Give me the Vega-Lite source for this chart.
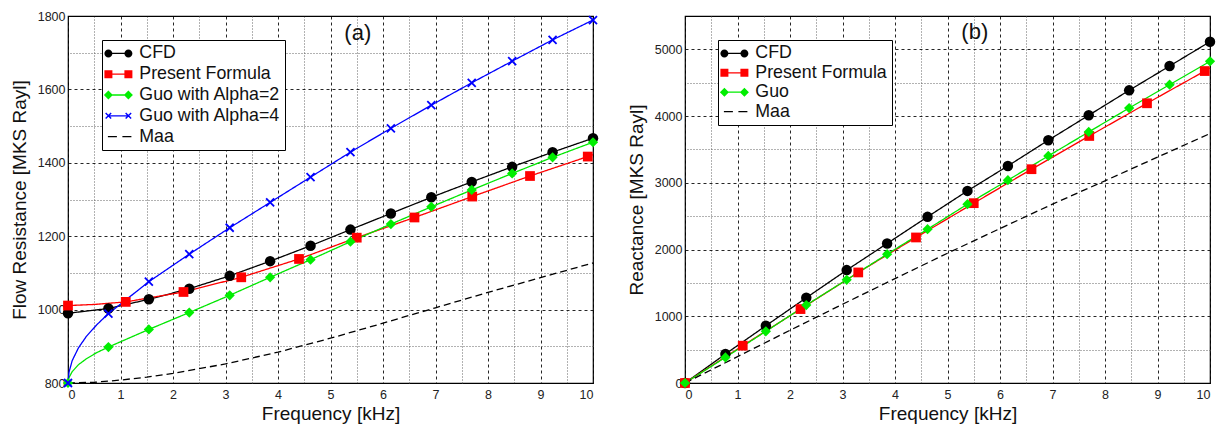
{
  "$schema": "https://vega.github.io/schema/vega-lite/v6.json",
  "autosize": {"type": "pad"},
  "padding": {"left": 9, "top": 9, "right": 5, "bottom": 5},
  "background": "white",
  "config": {
    "font": "Liberation Sans",
    "view": {"stroke": "#000", "strokeWidth": 1.2},
    "axis": {
      "labelFont": "Liberation Sans",
      "labelFontSize": 12.5,
      "labelColor": "#222",
      "titleFont": "Liberation Sans",
      "titleFontSize": 19,
      "titleFontWeight": "normal",
      "titleColor": "#111",
      "domain": false,
      "ticks": false,
      "gridColor": "#000",
      "gridDash": [3, 3],
      "gridWidth": 1,
      "gridOpacity": 0.85
    },
    "legend": {
      "strokeColor": "#000",
      "fillColor": "#fff",
      "padding": 4.5,
      "labelFont": "Liberation Sans",
      "labelFontSize": 17.8,
      "labelColor": "#111",
      "labelLimit": 300,
      "symbolSize": 100,
      "symbolOpacity": 1,
      "symbolStrokeWidth": 0,
      "symbolOffset": 3,
      "labelOffset": 12,
      "rowPadding": 1.8
    }
  },
  "datasets": {
    "resistanceCurves": [
      {"series": "CFD", "f": 0, "v": 990}, {"series": "CFD", "f": 0.77, "v": 1003}, {"series": "CFD", "f": 1.54, "v": 1028},
      {"series": "CFD", "f": 2.31, "v": 1057}, {"series": "CFD", "f": 3.08, "v": 1092}, {"series": "CFD", "f": 3.85, "v": 1132},
      {"series": "CFD", "f": 4.62, "v": 1174}, {"series": "CFD", "f": 5.38, "v": 1218}, {"series": "CFD", "f": 6.15, "v": 1262},
      {"series": "CFD", "f": 6.92, "v": 1306}, {"series": "CFD", "f": 7.69, "v": 1348}, {"series": "CFD", "f": 8.46, "v": 1389},
      {"series": "CFD", "f": 9.23, "v": 1429}, {"series": "CFD", "f": 10, "v": 1467},
      {"series": "Present Formula", "f": 0, "v": 1011}, {"series": "Present Formula", "f": 0.5, "v": 1014},
      {"series": "Present Formula", "f": 1.1, "v": 1021}, {"series": "Present Formula", "f": 2.2, "v": 1048},
      {"series": "Present Formula", "f": 3.3, "v": 1088}, {"series": "Present Formula", "f": 4.4, "v": 1138},
      {"series": "Present Formula", "f": 5.5, "v": 1196}, {"series": "Present Formula", "f": 6.6, "v": 1251},
      {"series": "Present Formula", "f": 7.7, "v": 1308}, {"series": "Present Formula", "f": 8.8, "v": 1364},
      {"series": "Present Formula", "f": 9.9, "v": 1417}, {"series": "Present Formula", "f": 10, "v": 1422},
      {"series": "Guo with Alpha=2", "f": 0, "v": 800}, {"series": "Guo with Alpha=2", "f": 0.02, "v": 815},
      {"series": "Guo with Alpha=2", "f": 0.08, "v": 831}, {"series": "Guo with Alpha=2", "f": 0.2, "v": 850},
      {"series": "Guo with Alpha=2", "f": 0.35, "v": 866}, {"series": "Guo with Alpha=2", "f": 0.55, "v": 883},
      {"series": "Guo with Alpha=2", "f": 0.77, "v": 898}, {"series": "Guo with Alpha=2", "f": 1.54, "v": 946},
      {"series": "Guo with Alpha=2", "f": 2.31, "v": 992}, {"series": "Guo with Alpha=2", "f": 3.08, "v": 1039},
      {"series": "Guo with Alpha=2", "f": 3.85, "v": 1088}, {"series": "Guo with Alpha=2", "f": 4.62, "v": 1136},
      {"series": "Guo with Alpha=2", "f": 5.38, "v": 1185}, {"series": "Guo with Alpha=2", "f": 6.15, "v": 1233},
      {"series": "Guo with Alpha=2", "f": 6.92, "v": 1280}, {"series": "Guo with Alpha=2", "f": 7.69, "v": 1326},
      {"series": "Guo with Alpha=2", "f": 8.46, "v": 1371}, {"series": "Guo with Alpha=2", "f": 9.23, "v": 1415},
      {"series": "Guo with Alpha=2", "f": 10, "v": 1456},
      {"series": "Guo with Alpha=4", "f": 0, "v": 800}, {"series": "Guo with Alpha=4", "f": 0.02, "v": 830},
      {"series": "Guo with Alpha=4", "f": 0.08, "v": 861}, {"series": "Guo with Alpha=4", "f": 0.2, "v": 896},
      {"series": "Guo with Alpha=4", "f": 0.35, "v": 927}, {"series": "Guo with Alpha=4", "f": 0.55, "v": 959},
      {"series": "Guo with Alpha=4", "f": 0.77, "v": 989}, {"series": "Guo with Alpha=4", "f": 1.54, "v": 1076},
      {"series": "Guo with Alpha=4", "f": 2.31, "v": 1151}, {"series": "Guo with Alpha=4", "f": 3.08, "v": 1223},
      {"series": "Guo with Alpha=4", "f": 3.85, "v": 1292}, {"series": "Guo with Alpha=4", "f": 4.62, "v": 1361},
      {"series": "Guo with Alpha=4", "f": 5.38, "v": 1429}, {"series": "Guo with Alpha=4", "f": 6.15, "v": 1494},
      {"series": "Guo with Alpha=4", "f": 6.92, "v": 1557}, {"series": "Guo with Alpha=4", "f": 7.69, "v": 1618},
      {"series": "Guo with Alpha=4", "f": 8.46, "v": 1677}, {"series": "Guo with Alpha=4", "f": 9.23, "v": 1735},
      {"series": "Guo with Alpha=4", "f": 10, "v": 1789},
      {"series": "Maa", "f": 0, "v": 800}, {"series": "Maa", "f": 0.5, "v": 802}, {"series": "Maa", "f": 1, "v": 808},
      {"series": "Maa", "f": 1.5, "v": 816}, {"series": "Maa", "f": 2, "v": 826}, {"series": "Maa", "f": 3, "v": 852},
      {"series": "Maa", "f": 4, "v": 884}, {"series": "Maa", "f": 5, "v": 922}, {"series": "Maa", "f": 6, "v": 963},
      {"series": "Maa", "f": 7, "v": 1005}, {"series": "Maa", "f": 8, "v": 1047}, {"series": "Maa", "f": 9, "v": 1087},
      {"series": "Maa", "f": 10, "v": 1127}
    ],
    "resistanceMarks": [
      {"series": "CFD", "f": 0, "v": 990}, {"series": "CFD", "f": 0.77, "v": 1003}, {"series": "CFD", "f": 1.54, "v": 1028},
      {"series": "CFD", "f": 2.31, "v": 1057}, {"series": "CFD", "f": 3.08, "v": 1092}, {"series": "CFD", "f": 3.85, "v": 1132},
      {"series": "CFD", "f": 4.62, "v": 1174}, {"series": "CFD", "f": 5.38, "v": 1218}, {"series": "CFD", "f": 6.15, "v": 1262},
      {"series": "CFD", "f": 6.92, "v": 1306}, {"series": "CFD", "f": 7.69, "v": 1348}, {"series": "CFD", "f": 8.46, "v": 1389},
      {"series": "CFD", "f": 9.23, "v": 1429}, {"series": "CFD", "f": 10, "v": 1467},
      {"series": "Present Formula", "f": 0, "v": 1011}, {"series": "Present Formula", "f": 1.1, "v": 1021},
      {"series": "Present Formula", "f": 2.2, "v": 1048}, {"series": "Present Formula", "f": 3.3, "v": 1088},
      {"series": "Present Formula", "f": 4.4, "v": 1138}, {"series": "Present Formula", "f": 5.5, "v": 1196},
      {"series": "Present Formula", "f": 6.6, "v": 1251}, {"series": "Present Formula", "f": 7.7, "v": 1308},
      {"series": "Present Formula", "f": 8.8, "v": 1364}, {"series": "Present Formula", "f": 9.9, "v": 1417},
      {"series": "Guo with Alpha=2", "f": 0, "v": 800}, {"series": "Guo with Alpha=2", "f": 0.77, "v": 898},
      {"series": "Guo with Alpha=2", "f": 1.54, "v": 946}, {"series": "Guo with Alpha=2", "f": 2.31, "v": 992},
      {"series": "Guo with Alpha=2", "f": 3.08, "v": 1039}, {"series": "Guo with Alpha=2", "f": 3.85, "v": 1088},
      {"series": "Guo with Alpha=2", "f": 4.62, "v": 1136}, {"series": "Guo with Alpha=2", "f": 5.38, "v": 1185},
      {"series": "Guo with Alpha=2", "f": 6.15, "v": 1233}, {"series": "Guo with Alpha=2", "f": 6.92, "v": 1280},
      {"series": "Guo with Alpha=2", "f": 7.69, "v": 1326}, {"series": "Guo with Alpha=2", "f": 8.46, "v": 1371},
      {"series": "Guo with Alpha=2", "f": 9.23, "v": 1415}, {"series": "Guo with Alpha=2", "f": 10, "v": 1456},
      {"series": "Guo with Alpha=4", "f": 0, "v": 800}, {"series": "Guo with Alpha=4", "f": 0.77, "v": 989},
      {"series": "Guo with Alpha=4", "f": 1.54, "v": 1076}, {"series": "Guo with Alpha=4", "f": 2.31, "v": 1151},
      {"series": "Guo with Alpha=4", "f": 3.08, "v": 1223}, {"series": "Guo with Alpha=4", "f": 3.85, "v": 1292},
      {"series": "Guo with Alpha=4", "f": 4.62, "v": 1361}, {"series": "Guo with Alpha=4", "f": 5.38, "v": 1429},
      {"series": "Guo with Alpha=4", "f": 6.15, "v": 1494}, {"series": "Guo with Alpha=4", "f": 6.92, "v": 1557},
      {"series": "Guo with Alpha=4", "f": 7.69, "v": 1618}, {"series": "Guo with Alpha=4", "f": 8.46, "v": 1677},
      {"series": "Guo with Alpha=4", "f": 9.23, "v": 1735}, {"series": "Guo with Alpha=4", "f": 10, "v": 1789}
    ],
    "reactanceCurves": [
      {"series": "CFD", "f": 0, "v": 0}, {"series": "CFD", "f": 0.77, "v": 434}, {"series": "CFD", "f": 1.54, "v": 858},
      {"series": "CFD", "f": 2.31, "v": 1277}, {"series": "CFD", "f": 3.08, "v": 1692}, {"series": "CFD", "f": 3.85, "v": 2091},
      {"series": "CFD", "f": 4.62, "v": 2490}, {"series": "CFD", "f": 5.38, "v": 2879}, {"series": "CFD", "f": 6.15, "v": 3253},
      {"series": "CFD", "f": 6.92, "v": 3638}, {"series": "CFD", "f": 7.69, "v": 4012}, {"series": "CFD", "f": 8.46, "v": 4386},
      {"series": "CFD", "f": 9.23, "v": 4750}, {"series": "CFD", "f": 10, "v": 5115},
      {"series": "Present Formula", "f": 0, "v": 0}, {"series": "Present Formula", "f": 1.1, "v": 559},
      {"series": "Present Formula", "f": 2.2, "v": 1108}, {"series": "Present Formula", "f": 3.3, "v": 1657},
      {"series": "Present Formula", "f": 4.4, "v": 2181}, {"series": "Present Formula", "f": 5.5, "v": 2695},
      {"series": "Present Formula", "f": 6.6, "v": 3204}, {"series": "Present Formula", "f": 7.7, "v": 3702},
      {"series": "Present Formula", "f": 8.8, "v": 4192}, {"series": "Present Formula", "f": 9.9, "v": 4675},
      {"series": "Present Formula", "f": 10, "v": 4720},
      {"series": "Guo", "f": 0, "v": 0}, {"series": "Guo", "f": 0.77, "v": 384}, {"series": "Guo", "f": 1.54, "v": 774},
      {"series": "Guo", "f": 2.31, "v": 1168}, {"series": "Guo", "f": 3.08, "v": 1547}, {"series": "Guo", "f": 3.85, "v": 1931},
      {"series": "Guo", "f": 4.62, "v": 2305}, {"series": "Guo", "f": 5.38, "v": 2680}, {"series": "Guo", "f": 6.15, "v": 3039},
      {"series": "Guo", "f": 6.92, "v": 3403}, {"series": "Guo", "f": 7.69, "v": 3762}, {"series": "Guo", "f": 8.46, "v": 4121},
      {"series": "Guo", "f": 9.23, "v": 4471}, {"series": "Guo", "f": 10, "v": 4820},
      {"series": "Maa", "f": 0, "v": 0}, {"series": "Maa", "f": 1, "v": 395}, {"series": "Maa", "f": 2, "v": 790},
      {"series": "Maa", "f": 3, "v": 1180}, {"series": "Maa", "f": 4, "v": 1565}, {"series": "Maa", "f": 5, "v": 1945},
      {"series": "Maa", "f": 6, "v": 2315}, {"series": "Maa", "f": 7, "v": 2680}, {"series": "Maa", "f": 8, "v": 3030},
      {"series": "Maa", "f": 9, "v": 3385}, {"series": "Maa", "f": 10, "v": 3738}
    ],
    "reactanceMarks": [
      {"series": "CFD", "f": 0, "v": 0}, {"series": "CFD", "f": 0.77, "v": 434}, {"series": "CFD", "f": 1.54, "v": 858},
      {"series": "CFD", "f": 2.31, "v": 1277}, {"series": "CFD", "f": 3.08, "v": 1692}, {"series": "CFD", "f": 3.85, "v": 2091},
      {"series": "CFD", "f": 4.62, "v": 2490}, {"series": "CFD", "f": 5.38, "v": 2879}, {"series": "CFD", "f": 6.15, "v": 3253},
      {"series": "CFD", "f": 6.92, "v": 3638}, {"series": "CFD", "f": 7.69, "v": 4012}, {"series": "CFD", "f": 8.46, "v": 4386},
      {"series": "CFD", "f": 9.23, "v": 4750}, {"series": "CFD", "f": 10, "v": 5115},
      {"series": "Present Formula", "f": 0, "v": 0}, {"series": "Present Formula", "f": 1.1, "v": 559},
      {"series": "Present Formula", "f": 2.2, "v": 1108}, {"series": "Present Formula", "f": 3.3, "v": 1657},
      {"series": "Present Formula", "f": 4.4, "v": 2181}, {"series": "Present Formula", "f": 5.5, "v": 2695},
      {"series": "Present Formula", "f": 6.6, "v": 3204}, {"series": "Present Formula", "f": 7.7, "v": 3702},
      {"series": "Present Formula", "f": 8.8, "v": 4192}, {"series": "Present Formula", "f": 9.9, "v": 4675},
      {"series": "Guo", "f": 0, "v": 0}, {"series": "Guo", "f": 0.77, "v": 384}, {"series": "Guo", "f": 1.54, "v": 774},
      {"series": "Guo", "f": 2.31, "v": 1168}, {"series": "Guo", "f": 3.08, "v": 1547}, {"series": "Guo", "f": 3.85, "v": 1931},
      {"series": "Guo", "f": 4.62, "v": 2305}, {"series": "Guo", "f": 5.38, "v": 2680}, {"series": "Guo", "f": 6.15, "v": 3039},
      {"series": "Guo", "f": 6.92, "v": 3403}, {"series": "Guo", "f": 7.69, "v": 3762}, {"series": "Guo", "f": 8.46, "v": 4121},
      {"series": "Guo", "f": 9.23, "v": 4471}, {"series": "Guo", "f": 10, "v": 4820}
    ]
  },
  "bounds": "flush",
  "spacing": 92,
  "hconcat": [
    {
      "width": 525,
      "height": 367,
      "layer": [
        {
          "data": {"name": "resistanceCurves"},
          "mark": {"type": "point", "opacity": 0},
          "encoding": {
            "x": {"field": "f", "type": "quantitative", "scale": {"domain": [0, 10], "nice": false},
              "axis": {"orient": "top", "values": [0.5, 1.5, 2.5, 3.5, 4.5, 5.5, 6.5, 7.5, 8.5, 9.5], "grid": true, "gridDash": [1, 2], "gridColor": "#555", "gridOpacity": 0.9, "labels": false, "title": null}},
            "y": {"field": "v", "type": "quantitative", "scale": {"domain": [800, 1800], "nice": false, "zero": false},
              "axis": {"orient": "right", "values": [900, 1100, 1300, 1500, 1700], "grid": true, "gridDash": [1, 2], "gridColor": "#555", "gridOpacity": 0.9, "labels": false, "title": null}}
          }
        },
        {
          "data": {"name": "resistanceCurves"},
          "mark": {"type": "line", "strokeWidth": 1.3},
          "encoding": {
            "x": {"field": "f", "type": "quantitative",
              "axis": {"orient": "bottom", "values": [0, 1, 2, 3, 4, 5, 6, 7, 8, 9, 10], "format": "d", "grid": true, "title": "Frequency [kHz]", "labelPadding": 5, "titlePadding": 4}},
            "y": {"field": "v", "type": "quantitative",
              "axis": {"orient": "left", "values": [800, 1000, 1200, 1400, 1600, 1800], "format": "d", "grid": true, "title": "Flow Resistance [MKS Rayl]", "labelPadding": 3, "titlePadding": 8}},
            "detail": {"field": "series"},
            "stroke": {
              "condition": [
                {"test": "datum.series === 'Present Formula'", "value": "#ff0000"},
                {"test": "datum.series === 'Guo with Alpha=2'", "value": "#00e600"},
                {"test": "datum.series === 'Guo with Alpha=4'", "value": "#0000ff"}
              ],
              "value": "#000000"},
            "strokeDash": {"condition": {"test": "datum.series === 'Maa'", "value": [7, 4]}, "value": [1, 0]}
          }
        },
        {
          "data": {"name": "resistanceMarks"},
          "transform": [{"filter": "datum.series === 'CFD'"}],
          "mark": {"type": "point", "shape": "circle", "filled": true, "color": "#000000", "size": 110, "opacity": 1},
          "encoding": {"x": {"field": "f", "type": "quantitative", "axis": null}, "y": {"field": "v", "type": "quantitative", "axis": null}}
        },
        {
          "data": {"name": "resistanceMarks"},
          "transform": [{"filter": "datum.series === 'Present Formula'"}],
          "mark": {"type": "point", "shape": "square", "filled": true, "color": "#ff0000", "size": 95, "opacity": 1},
          "encoding": {"x": {"field": "f", "type": "quantitative", "axis": null}, "y": {"field": "v", "type": "quantitative", "axis": null}}
        },
        {
          "data": {"name": "resistanceMarks"},
          "transform": [{"filter": "datum.series === 'Guo with Alpha=2'"}],
          "mark": {"type": "point", "shape": "diamond", "filled": true, "color": "#00ee00", "size": 105, "opacity": 1},
          "encoding": {"x": {"field": "f", "type": "quantitative", "axis": null}, "y": {"field": "v", "type": "quantitative", "axis": null}}
        },
        {
          "data": {"name": "resistanceMarks"},
          "transform": [{"filter": "datum.series === 'Guo with Alpha=4'"}],
          "mark": {"type": "point", "shape": "M-1,-1L1,1M-1,1L1,-1", "filled": false, "color": "#0000ff", "size": 64, "strokeWidth": 1.8, "opacity": 1},
          "encoding": {"x": {"field": "f", "type": "quantitative", "axis": null}, "y": {"field": "v", "type": "quantitative", "axis": null}}
        },
        {
          "data": {"name": "resistanceCurves"},
          "mark": {"type": "point", "filled": true, "opacity": 0},
          "encoding": {
            "x": {"field": "f", "type": "quantitative", "axis": null},
            "y": {"field": "v", "type": "quantitative", "axis": null},
            "color": {"field": "series", "type": "nominal",
              "scale": {"domain": ["CFD", "Present Formula", "Guo with Alpha=2", "Guo with Alpha=4", "Maa"], "range": ["#000000", "#ff0000", "#00ee00", "#0000ff", "#000000"]},
              "legend": {"title": null, "orient": "none", "legendX": 34, "legendY": 24}},
            "shape": {"field": "series", "type": "nominal",
              "scale": {"domain": ["CFD", "Present Formula", "Guo with Alpha=2", "Guo with Alpha=4", "Maa"],
                "range": [
                  "M-2,-0.13H2V0.13H-2ZM-2.8,0A0.8,0.8 0 1,1 -1.2,0A0.8,0.8 0 1,1 -2.8,0ZM1.2,0A0.8,0.8 0 1,1 2.8,0A0.8,0.8 0 1,1 1.2,0Z",
                  "M-2,-0.13H2V0.13H-2ZM-2.8,-0.8H-1.2V0.8H-2.8ZM1.2,-0.8H2.8V0.8H1.2Z",
                  "M-2,-0.13H2V0.13H-2ZM-2.9,0L-2,-0.9L-1.1,0L-2,0.9ZM1.1,0L2,-0.9L2.9,0L2,0.9Z",
                  "M-2,-0.13H2V0.13H-2ZM-2.45,-0.65L-1.35,0.45L-1.55,0.65L-2.65,-0.45ZM-2.65,0.45L-1.55,-0.65L-1.35,-0.45L-2.45,0.65ZM1.55,-0.65L2.65,0.45L2.45,0.65L1.35,-0.45ZM1.35,0.45L2.45,-0.65L2.65,-0.45L1.55,0.65Z",
                  "M-2.1,-0.13H-0.3V0.13H-2.1ZM0.8,-0.13H2.6V0.13H0.8Z"
                ]},
              "legend": {"title": null, "orient": "none", "legendX": 34, "legendY": 24}}
          }
        },
        {
          "data": {"values": [{"f": 5.52, "v": 1754, "label": "(a)"}]},
          "mark": {"type": "text", "fontSize": 22, "font": "Liberation Sans", "color": "#111", "align": "center", "baseline": "middle"},
          "encoding": {
            "x": {"field": "f", "type": "quantitative", "axis": null},
            "y": {"field": "v", "type": "quantitative", "axis": null},
            "text": {"field": "label"}
          }
        }
      ],
      "resolve": {"axis": {"x": "independent", "y": "independent"}}
    },
    {
      "width": 525,
      "height": 367,
      "layer": [
        {
          "data": {"name": "reactanceCurves"},
          "mark": {"type": "point", "opacity": 0},
          "encoding": {
            "x": {"field": "f", "type": "quantitative", "scale": {"domain": [0, 10], "nice": false},
              "axis": {"orient": "top", "values": [0.5, 1.5, 2.5, 3.5, 4.5, 5.5, 6.5, 7.5, 8.5, 9.5], "grid": true, "gridDash": [1, 2], "gridColor": "#555", "gridOpacity": 0.9, "labels": false, "title": null}},
            "y": {"field": "v", "type": "quantitative", "scale": {"domain": [0, 5500], "nice": false},
              "axis": {"orient": "right", "values": [500, 1500, 2500, 3500, 4500], "grid": true, "gridDash": [1, 2], "gridColor": "#555", "gridOpacity": 0.9, "labels": false, "title": null}}
          }
        },
        {
          "data": {"name": "reactanceCurves"},
          "mark": {"type": "line", "strokeWidth": 1.3},
          "encoding": {
            "x": {"field": "f", "type": "quantitative",
              "axis": {"orient": "bottom", "values": [0, 1, 2, 3, 4, 5, 6, 7, 8, 9, 10], "format": "d", "grid": true, "title": "Frequency [kHz]", "labelPadding": 5, "titlePadding": 4}},
            "y": {"field": "v", "type": "quantitative",
              "axis": {"orient": "left", "values": [0, 1000, 2000, 3000, 4000, 5000], "format": "d", "grid": true, "title": "Reactance [MKS Rayl]", "labelPadding": 3, "titlePadding": 8}},
            "detail": {"field": "series"},
            "stroke": {
              "condition": [
                {"test": "datum.series === 'Present Formula'", "value": "#ff0000"},
                {"test": "datum.series === 'Guo'", "value": "#00e600"}
              ],
              "value": "#000000"},
            "strokeDash": {"condition": {"test": "datum.series === 'Maa'", "value": [7, 4]}, "value": [1, 0]}
          }
        },
        {
          "data": {"name": "reactanceMarks"},
          "transform": [{"filter": "datum.series === 'CFD'"}],
          "mark": {"type": "point", "shape": "circle", "filled": true, "color": "#000000", "size": 110, "opacity": 1},
          "encoding": {"x": {"field": "f", "type": "quantitative", "axis": null}, "y": {"field": "v", "type": "quantitative", "axis": null}}
        },
        {
          "data": {"name": "reactanceMarks"},
          "transform": [{"filter": "datum.series === 'Present Formula'"}],
          "mark": {"type": "point", "shape": "square", "filled": true, "color": "#ff0000", "size": 95, "opacity": 1},
          "encoding": {"x": {"field": "f", "type": "quantitative", "axis": null}, "y": {"field": "v", "type": "quantitative", "axis": null}}
        },
        {
          "data": {"name": "reactanceMarks"},
          "transform": [{"filter": "datum.series === 'Guo'"}],
          "mark": {"type": "point", "shape": "diamond", "filled": true, "color": "#00ee00", "size": 105, "opacity": 1},
          "encoding": {"x": {"field": "f", "type": "quantitative", "axis": null}, "y": {"field": "v", "type": "quantitative", "axis": null}}
        },
        {
          "data": {"name": "reactanceCurves"},
          "mark": {"type": "point", "filled": true, "opacity": 0},
          "encoding": {
            "x": {"field": "f", "type": "quantitative", "axis": null},
            "y": {"field": "v", "type": "quantitative", "axis": null},
            "color": {"field": "series", "type": "nominal",
              "scale": {"domain": ["CFD", "Present Formula", "Guo", "Maa"], "range": ["#000000", "#ff0000", "#00ee00", "#000000"]},
              "legend": {"title": null, "orient": "none", "legendX": 33, "legendY": 24, "rowPadding": 0.4}},
            "shape": {"field": "series", "type": "nominal",
              "scale": {"domain": ["CFD", "Present Formula", "Guo", "Maa"],
                "range": [
                  "M-2,-0.13H2V0.13H-2ZM-2.8,0A0.8,0.8 0 1,1 -1.2,0A0.8,0.8 0 1,1 -2.8,0ZM1.2,0A0.8,0.8 0 1,1 2.8,0A0.8,0.8 0 1,1 1.2,0Z",
                  "M-2,-0.13H2V0.13H-2ZM-2.8,-0.8H-1.2V0.8H-2.8ZM1.2,-0.8H2.8V0.8H1.2Z",
                  "M-2,-0.13H2V0.13H-2ZM-2.9,0L-2,-0.9L-1.1,0L-2,0.9ZM1.1,0L2,-0.9L2.9,0L2,0.9Z",
                  "M-2.1,-0.13H-0.3V0.13H-2.1ZM0.8,-0.13H2.6V0.13H0.8Z"
                ]},
              "legend": {"title": null, "orient": "none", "legendX": 33, "legendY": 24, "rowPadding": 0.4}}
          }
        },
        {
          "data": {"values": [{"f": 5.52, "v": 5254, "label": "(b)"}]},
          "mark": {"type": "text", "fontSize": 22, "font": "Liberation Sans", "color": "#111", "align": "center", "baseline": "middle"},
          "encoding": {
            "x": {"field": "f", "type": "quantitative", "axis": null},
            "y": {"field": "v", "type": "quantitative", "axis": null},
            "text": {"field": "label"}
          }
        }
      ],
      "resolve": {"axis": {"x": "independent", "y": "independent"}}
    }
  ],
  "resolve": {
    "scale": {"color": "independent", "shape": "independent"}
  }
}
